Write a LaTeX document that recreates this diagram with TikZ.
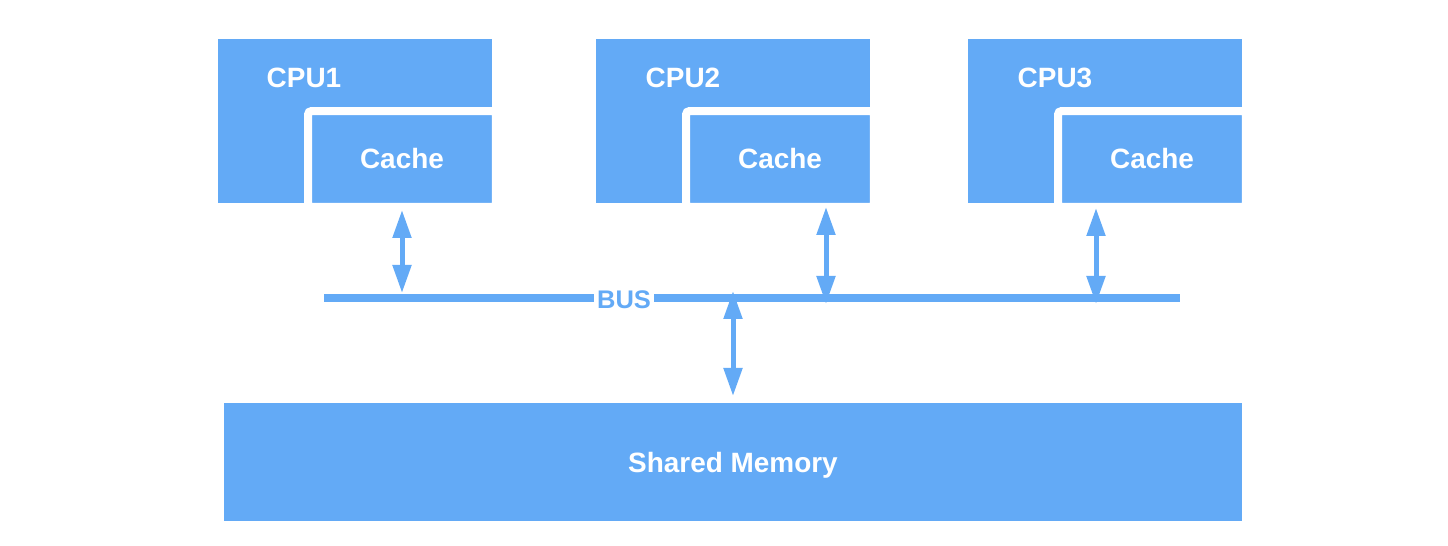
\documentclass[tikz,border=0pt]{standalone}
\usepackage{fontspec}
\setmainfont{Liberation Sans}
\usetikzlibrary{arrows.meta}
\definecolor{cpublue}{RGB}{99,170,246}

\begin{document}
\begin{tikzpicture}[x=0.02cm,y=-0.02cm,
    block/.style={fill=cpublue, inner sep=0pt, minimum width=5.48cm, minimum height=3.28cm},
    cachebox/.style={fill=cpublue, draw=white, line width=0.16cm, rounded corners=2pt,
        inner sep=0pt, minimum width=3.76cm, minimum height=1.92cm,
        text=white, font=\fontsize{15.9}{18}\selectfont\bfseries},
    title/.style={text=white, inner sep=0pt, font=\fontsize{15.9}{18}\selectfont\bfseries},
    busline/.style={draw=cpublue, line width=0.16cm},
    link/.style={draw=cpublue, line width=0.1cm, {Triangle[width=0.36cm,length=0.56cm]}-{Triangle[width=0.36cm,length=0.56cm]}}]
    \useasboundingbox (0,0) rectangle (1448,546);
    % processors with their caches
    \node[block] (cpu1) at (355,121) {};
    \node[cachebox] (cache1) at (402,159) {Cache};
    \node[title] (cpu1 label) at (304,78) {CPU1};
    \node[block] (cpu2) at (733,121) {};
    \node[cachebox] (cache2) at (780,159) {Cache};
    \node[title] (cpu2 label) at (683,78) {CPU2};
    \node[block] (cpu3) at (1105,121) {};
    \node[cachebox] (cache3) at (1152,159) {Cache};
    \node[title] (cpu3 label) at (1055,78) {CPU3};
    % memory
    \node[fill=cpublue, inner sep=0pt, minimum width=20.36cm, minimum height=2.36cm,
        text=white, text depth=0pt, font=\fontsize{15.9}{18}\selectfont\bfseries] (mem) at (733,462) {Shared Memory};
    % bus
    \coordinate (busL) at (324,298);
    \coordinate (busR) at (1180,298);
    \draw[busline] (busL) -- (busR);
    \node[fill=white, text=cpublue, inner xsep=1.5pt, inner ysep=1pt,
        font=\fontsize{14.5}{16}\selectfont\bfseries] (bus) at (624,300) {BUS};
    % connections
    \coordinate (a1top) at (402,210);
    \coordinate (a1bot) at (402,293);
    \coordinate (a2top) at (826,207);
    \coordinate (a2bot) at (826,304);
    \coordinate (a3top) at (1096,208);
    \coordinate (a3bot) at (1096,304);
    \coordinate (memtop) at (733,291);
    \coordinate (membot) at (733,396);
    \draw[link] (a1top) -- (a1bot);
    \draw[link] (a2top) -- (a2bot);
    \draw[link] (a3top) -- (a3bot);
    \draw[link] (memtop) -- (membot);
\end{tikzpicture}
\end{document}
